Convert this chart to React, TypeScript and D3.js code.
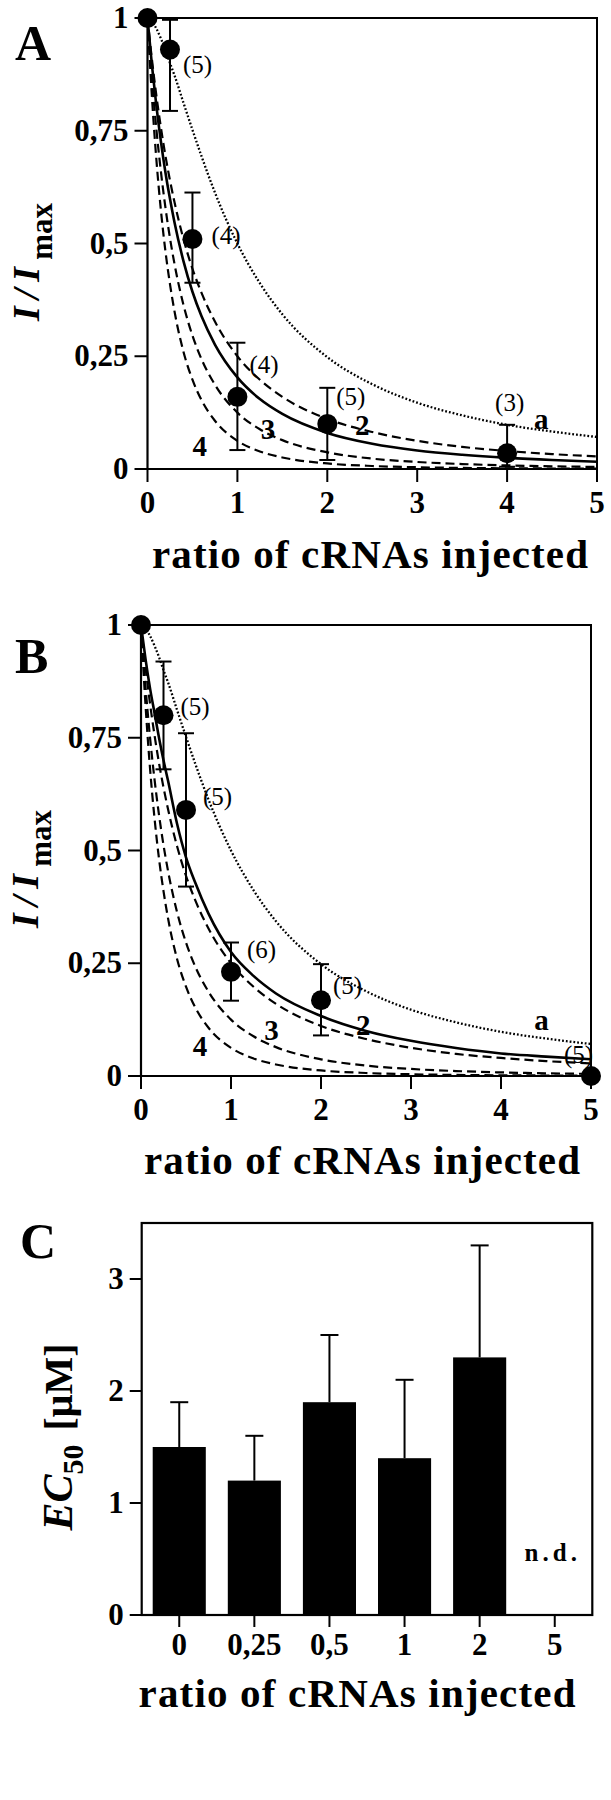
import React from "react";
import * as d3 from "d3";

const SERIF = '"Liberation Serif", "Times New Roman", Times, serif';

// ---------- Panels A & B : model curves ----------
const curveX = [0, 0.05, 0.1, 0.15, 0.2, 0.25, 0.3, 0.4, 0.5, 0.6, 0.75, 1, 1.25, 1.5, 2, 2.5, 3, 3.5, 4, 4.5, 5];
const dashed2 = [1, 0.907, 0.826, 0.756, 0.694, 0.64, 0.592, 0.51, 0.444, 0.391, 0.327, 0.25, 0.198, 0.16, 0.111, 0.082, 0.0625, 0.049, 0.04, 0.033, 0.028];
const dashed3 = [1, 0.864, 0.751, 0.658, 0.579, 0.512, 0.455, 0.364, 0.296, 0.244, 0.187, 0.125, 0.088, 0.064, 0.037, 0.023, 0.0156, 0.011, 0.008, 0.006, 0.0046];
const dashed4 = [1, 0.823, 0.683, 0.572, 0.482, 0.41, 0.35, 0.26, 0.198, 0.153, 0.107, 0.0625, 0.039, 0.0256, 0.0123, 0.0067, 0.0039, 0.0024, 0.0016, 0.0011, 0.0008];
const dottedA = [1, 0.992, 0.976, 0.954, 0.929, 0.9, 0.873, 0.812, 0.752, 0.694, 0.613, 0.5, 0.412, 0.343, 0.248, 0.188, 0.147, 0.119, 0.098, 0.083, 0.071];
const solidFitA = [1, 0.894, 0.803, 0.725, 0.657, 0.599, 0.547, 0.461, 0.393, 0.339, 0.276, 0.203, 0.155, 0.122, 0.08, 0.056, 0.041, 0.0315, 0.0247, 0.0198, 0.0162];
const solidFitB = [1, 0.925, 0.86, 0.805, 0.75, 0.7, 0.655, 0.56, 0.485, 0.43, 0.36, 0.275, 0.222, 0.183, 0.133, 0.1, 0.078, 0.062, 0.05, 0.043, 0.037];

// measured points
const ratioA = [0, 0.25, 0.5, 1, 2, 4];
const meanA = [1, 0.93, 0.51, 0.16, 0.1, 0.035];
const errHiA = [null, 0.996, 0.613, 0.28, 0.18, 0.098];
const errLoA = [null, 0.794, 0.413, 0.042, 0.02, 0.005];
const nA = ["", "(5)", "(4)", "(4)", "(5)", "(3)"];

const ratioB = [0, 0.25, 0.5, 1, 2, 5];
const meanB = [1, 0.8, 0.59, 0.231, 0.168, 0.0];
const errHiB = [null, 0.919, 0.76, 0.296, 0.248, null];
const errLoB = [null, 0.68, 0.42, 0.167, 0.09, null];
const nB = ["", "(5)", "(5)", "(6)", "(5)", "(5)"];

const xTicks = [0, 1, 2, 3, 4, 5];
const yTicks = [0, 0.25, 0.5, 0.75, 1];
const yTickLabels = ["0", "0,25", "0,5", "0,75", "1"];

const curveNames = ["a", "2", "3", "4"];
// curve-name annotation positions, in data coordinates
const curveNamePosA = [[4.38, 0.111], [2.39, 0.098], [1.34, 0.089], [0.58, 0.051]];
const curveNamePosB = [[4.45, 0.124], [2.47, 0.113], [1.45, 0.102], [0.656, 0.0665]];
// n-label offsets (pixels, left edge / vertical centre relative to the point)
const nOffA = [[0, 0], [13, 15], [19, -3], [12, -32], [9, -27], [-12, -50]];
const nOffB = [[0, 0], [17, -8], [17, -13], [16, -22], [12, -14], [-27, -21]];

// ---------- Panel C ----------
const catsC = ["0", "0,25", "0,5", "1", "2", "5"];
const ec50 = [1.5, 1.2, 1.9, 1.4, 2.3, null];
const ec50Err = [0.4, 0.4, 0.6, 0.7, 1.0, null];
const yTicksC = [0, 1, 2, 3];

const XTITLE = "ratio of cRNAs injected";

type CurveProps = {
  letter: string;
  letterY: number;
  x0: number;
  x1: number;
  yTop: number;
  yBot: number;
  solid: number[];
  ratio: number[];
  mean: number[];
  hi: (number | null)[];
  lo: (number | null)[];
  ns: string[];
  nOff: number[][];
  namePos: number[][];
  labelY: number;
  labelX: number;
  titleCx: number;
  titleY: number;
};

function CurvePanel(p: CurveProps) {
  const x = d3.scaleLinear().domain([0, 5]).range([p.x0, p.x1]);
  const y = d3.scaleLinear().domain([0, 1]).range([p.yBot, p.yTop]);
  const line = d3
    .line<number>()
    .x((_, i) => x(curveX[i]))
    .y((d) => y(d))
    .curve(d3.curveMonotoneX);
  const tickLen = 13;
  return (
    <g>
      <text x={15} y={p.letterY} fontFamily={SERIF} fontWeight="bold" fontSize={50}>
        {p.letter}
      </text>
      {/* frame */}
      <path
        d={`M${p.x0},${p.yTop}H${p.x1}V${p.yBot}`}
        fill="none"
        stroke="#000"
        strokeWidth={2}
      />
      {/* y axis */}
      <line x1={p.x0} x2={p.x0} y1={p.yTop} y2={p.yBot} stroke="#000" strokeWidth={2.2} />
      {yTicks.map((t, i) => (
        <g key={"yt" + i}>
          <line x1={p.x0 - tickLen} x2={p.x0} y1={y(t)} y2={y(t)} stroke="#000" strokeWidth={2} />
          <text
            x={p.x0 - tickLen - 6}
            y={y(t) + 10}
            textAnchor="end"
            fontFamily={SERIF}
            fontWeight="bold"
            fontSize={31}
          >
            {yTickLabels[i]}
          </text>
        </g>
      ))}
      {/* x axis */}
      <line x1={p.x0} x2={p.x1} y1={p.yBot} y2={p.yBot} stroke="#000" strokeWidth={2.2} />
      {xTicks.map((t, i) => (
        <g key={"xt" + i}>
          <line x1={x(t)} x2={x(t)} y1={p.yBot} y2={p.yBot + tickLen} stroke="#000" strokeWidth={2} />
          <text
            x={x(t)}
            y={p.yBot + 44}
            textAnchor="middle"
            fontFamily={SERIF}
            fontWeight="bold"
            fontSize={31}
          >
            {String(t)}
          </text>
        </g>
      ))}
      {/* curves */}
      <path d={line(dottedA) || ""} fill="none" stroke="#000" strokeWidth={2.3} strokeDasharray="1.8,2" />
      <path d={line(dashed2) || ""} fill="none" stroke="#000" strokeWidth={2.2} strokeDasharray="9,5" />
      <path d={line(dashed3) || ""} fill="none" stroke="#000" strokeWidth={2.2} strokeDasharray="9,5" />
      <path d={line(dashed4) || ""} fill="none" stroke="#000" strokeWidth={2.2} strokeDasharray="9,5" />
      <path d={line(p.solid) || ""} fill="none" stroke="#000" strokeWidth={2.6} />
      {/* curve names */}
      {curveNames.map((nm, i) => (
        <text
          key={"cn" + i}
          x={x(p.namePos[i][0])}
          y={y(p.namePos[i][1]) + 10}
          textAnchor="middle"
          fontFamily={SERIF}
          fontWeight="bold"
          fontSize={29}
        >
          {nm}
        </text>
      ))}
      {/* error bars */}
      {p.ratio.map((r, i) =>
        p.hi[i] != null ? (
          <g key={"eb" + i} stroke="#000" strokeWidth={2}>
            <line x1={x(r)} x2={x(r)} y1={y(p.hi[i] as number)} y2={y(p.lo[i] as number)} />
            <line x1={x(r) - 8} x2={x(r) + 8} y1={y(p.hi[i] as number)} y2={y(p.hi[i] as number)} />
            <line x1={x(r) - 8} x2={x(r) + 8} y1={y(p.lo[i] as number)} y2={y(p.lo[i] as number)} />
          </g>
        ) : null
      )}
      {/* points */}
      {p.ratio.map((r, i) => (
        <circle key={"pt" + i} cx={x(r)} cy={y(p.mean[i])} r={10} fill="#000" />
      ))}
      {/* n labels */}
      {p.ratio.map((r, i) =>
        p.ns[i] ? (
          <text
            key={"n" + i}
            x={x(r) + p.nOff[i][0]}
            y={y(p.mean[i]) + p.nOff[i][1] + 8}
            fontFamily={SERIF}
            fontSize={25}
          >
            {p.ns[i]}
          </text>
        ) : null
      )}
      {/* y label */}
      <text
        transform={`translate(${p.labelX},${p.labelY}) rotate(-90)`}
        textAnchor="middle"
        fontFamily={SERIF}
        fontWeight="bold"
      >
        <tspan fontStyle="italic" fontSize={38} letterSpacing={7}>
          I/I
        </tspan>
        <tspan fontSize={31} dy={13}>
          max
        </tspan>
      </text>
      {/* x title */}
      <text
        x={p.titleCx}
        y={p.titleY}
        textAnchor="middle"
        fontFamily={SERIF}
        fontWeight="bold"
        fontSize={41}
        textLength={436}
        lengthAdjust="spacing"
      >
        {XTITLE}
      </text>
    </g>
  );
}

function BarPanel() {
  const x0 = 141.7;
  const x1 = 592.3;
  const yTop = 1223;
  const yBot = 1615;
  const x = d3.scaleBand<string>().domain(catsC).range([x0, x1]).paddingInner(0.293).paddingOuter(0.1465);
  const y = d3.scaleLinear().domain([0, 3.5]).range([yBot, yTop]);
  return (
    <g>
      <text x={20} y={1258} fontFamily={SERIF} fontWeight="bold" fontSize={50}>
        C
      </text>
      <rect x={x0} y={yTop} width={x1 - x0} height={yBot - yTop} fill="none" stroke="#000" strokeWidth={2.2} />
      {ec50.map((v, i) =>
        v != null ? (
          <g key={"b" + i}>
            <line
              x1={(x(catsC[i]) as number) + x.bandwidth() / 2}
              x2={(x(catsC[i]) as number) + x.bandwidth() / 2}
              y1={y(v)}
              y2={y(v + (ec50Err[i] as number))}
              stroke="#000"
              strokeWidth={2}
            />
            <line
              x1={(x(catsC[i]) as number) + x.bandwidth() / 2 - 9}
              x2={(x(catsC[i]) as number) + x.bandwidth() / 2 + 9}
              y1={y(v + (ec50Err[i] as number))}
              y2={y(v + (ec50Err[i] as number))}
              stroke="#000"
              strokeWidth={2}
            />
            <rect x={x(catsC[i])} y={y(v)} width={x.bandwidth()} height={yBot - y(v)} fill="#000" />
          </g>
        ) : (
          <text
            key={"b" + i}
            x={(x(catsC[i]) as number) + x.bandwidth() / 2 - 2}
            y={1561}
            textAnchor="middle"
            fontFamily={SERIF}
            fontWeight="bold"
            fontSize={25}
            letterSpacing={4}
          >
            n.d.
          </text>
        )
      )}
      {yTicksC.map((t, i) => (
        <g key={"yc" + i}>
          <line x1={x0 - 12} x2={x0} y1={y(t)} y2={y(t)} stroke="#000" strokeWidth={2} />
          <text x={x0 - 18} y={y(t) + 10} textAnchor="end" fontFamily={SERIF} fontWeight="bold" fontSize={31}>
            {String(t)}
          </text>
        </g>
      ))}
      {catsC.map((c, i) => (
        <g key={"xc" + i}>
          <line
            x1={(x(c) as number) + x.bandwidth() / 2}
            x2={(x(c) as number) + x.bandwidth() / 2}
            y1={yBot}
            y2={yBot + 12}
            stroke="#000"
            strokeWidth={2}
          />
          <text
            x={(x(c) as number) + x.bandwidth() / 2}
            y={1655}
            textAnchor="middle"
            fontFamily={SERIF}
            fontWeight="bold"
            fontSize={31}
          >
            {c}
          </text>
        </g>
      ))}
      <text
        transform={`translate(72,1437) rotate(-90)`}
        textAnchor="middle"
        fontFamily={SERIF}
        fontWeight="bold"
      >
        <tspan fontStyle="italic" fontSize={42}>
          EC
        </tspan>
        <tspan fontSize={30} dy={11}>
          50
        </tspan>
        <tspan fontSize={40} dy={-11} dx={14}>
          [μM]
        </tspan>
      </text>
      <text
        x={357}
        y={1707}
        textAnchor="middle"
        fontFamily={SERIF}
        fontWeight="bold"
        fontSize={41}
        textLength={437}
        lengthAdjust="spacing"
      >
        {XTITLE}
      </text>
    </g>
  );
}

export default function App() {
  return (
    <svg
      width={611}
      height={1800}
      viewBox="0 0 611 1800"
      style={{ position: "absolute", left: 0, top: 0, background: "#fff", display: "block" }}
    >
      <rect x={0} y={0} width={611} height={1800} fill="#fff" />
      <CurvePanel
        letter="A"
        letterY={60}
        x0={147.5}
        x1={597}
        yTop={18}
        yBot={469}
        solid={solidFitA}
        ratio={ratioA}
        mean={meanA}
        hi={errHiA}
        lo={errLoA}
        ns={nA}
        nOff={nOffA}
        namePos={curveNamePosA}
        labelX={39}
        labelY={262}
        titleCx={370}
        titleY={568}
      />
      <CurvePanel
        letter="B"
        letterY={673}
        x0={141}
        x1={591}
        yTop={625}
        yBot={1076}
        solid={solidFitB}
        ratio={ratioB}
        mean={meanB}
        hi={errHiB}
        lo={errLoB}
        ns={nB}
        nOff={nOffB}
        namePos={curveNamePosB}
        labelX={38}
        labelY={869}
        titleCx={362}
        titleY={1174}
      />
      <BarPanel />
    </svg>
  );
}
